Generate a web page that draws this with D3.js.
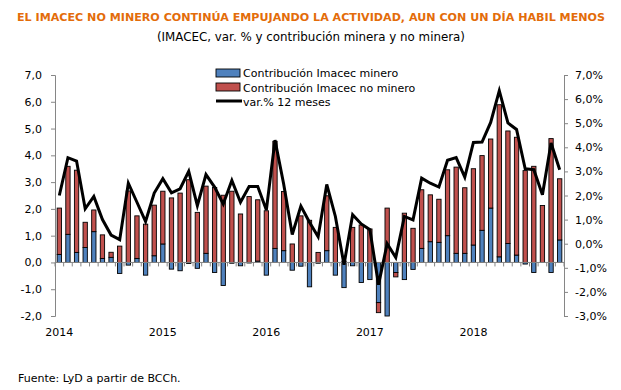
<!DOCTYPE html>
<html>
<head>
<meta charset="utf-8">
<script src="https://cdn.jsdelivr.net/npm/d3@7"></script>
<style>
  body { margin: 0; background: #fff; }
  svg text { font-family: "DejaVu Sans", Verdana, sans-serif; }
</style>
</head>
<body>
<script>
// monthly data, Jan 2014 - Nov 2018
const months = d3.timeMonth.range(new Date(2014, 0, 1), new Date(2018, 11, 1))

// contribution of mining imacec (pp)
const minero = [0.3, 1.05, 0.375, 0.56, 1.15, 0.15, 0.19, -0.41, -0.1, 0.15, -0.475, 0.25,
  0.69, -0.25, -0.31, -0.04, -0.22, 0.34, -0.375, -0.86, -0.03, -0.125, -0.02, 0.05,
  -0.475, 0.525, 0.44, -0.29, -0.14, -0.91, -0.03, 0.44, -0.475, -0.94, -0.125, -0.75,
  -0.64, -1.5, -2.0, -0.375, -0.64, -0.26, 0.525, 0.775, 0.75, 1.0, 0.34, 0.34,
  0.65, 1.2, 2.03, 0.21, 0.71, 0.275, -0.06, -0.375, 0.0, -0.375, 0.84]

// contribution of non-mining imacec (pp)
const noMinero = [1.73, 2.54, 3.07, 0.94, 0.81, 0.88, 0.19, 0.61, 2.67, 1.59, 1.43, 1.89,
  1.97, 2.41, 2.59, 3.09, 1.87, 2.51, 2.8, 2.51, 2.66, 1.81, 2.46, 2.29,
  1.93, 4.0, 2.21, 0.69, 1.74, 1.575, 0.375, 2.05, 1.31, 0.05, 1.31, 1.4,
  1.25, -0.375, 2.03, -0.165, 1.84, 1.275, 2.19, 1.75, 1.61, 2.46, 3.22, 2.45,
  2.85, 2.79, 2.58, 5.68, 4.2, 4.4, 3.43, 3.59, 2.125, 4.625, 2.285]

// imacec var.% 12 meses (right axis)
const varAnual = [2.0, 3.57, 3.43, 1.45, 1.96, 1.0, 0.36, 0.17, 2.51, 1.72, 0.92, 2.1,
  2.7, 2.11, 2.28, 3.0, 1.58, 2.87, 2.35, 1.65, 2.62, 1.72, 2.37, 2.37,
  1.4, 4.3, 2.49, 0.38, 1.56, 0.89, 0.29, 2.46, 1.13, -0.87, 1.2, 0.82,
  0.58, -1.7, 0.0, -0.57, 1.13, 0.99, 2.72, 2.51, 2.35, 3.46, 3.57, 2.76,
  4.2, 4.22, 5.03, 6.35, 5.01, 4.74, 3.11, 3.07, 2.03, 4.18, 3.07]

const leftTicks = [7, 6, 5, 4, 3, 2, 1, 0, -1, -2]
const rightTicks = [7, 6, 5, 4, 3, 2, 1, 0, -1, -2, -3]

const width = 621, height = 390
const plot = {left: 55, right: 564, top: 75, bottom: 316}

const svg = d3.select('body').append('svg')
    .attr('width', width)
    .attr('height', height)

// title + subtitle
svg.append('text')
    .attr('x', 311).attr('y', 21)
    .attr('text-anchor', 'middle')
    .attr('font-family', 'Liberation Sans, Arial, sans-serif')
    .attr('font-weight', 'bold')
    .attr('font-size', '11px')
    .attr('fill', '#E36C0A')
    .attr('textLength', 588)
    .attr('lengthAdjust', 'spacingAndGlyphs')
    .text('EL IMACEC NO MINERO CONTINÚA EMPUJANDO LA ACTIVIDAD, AUN CON UN DÍA HABIL MENOS')
svg.append('text')
    .attr('x', 311).attr('y', 41)
    .attr('text-anchor', 'middle')
    .attr('font-family', 'Liberation Sans, Arial, sans-serif')
    .attr('font-size', '13px')
    .attr('textLength', 308)
    .attr('lengthAdjust', 'spacingAndGlyphs')
    .text('(IMACEC, var. % y contribución minera y no minera)')

// scales
const xScale = d3.scaleBand()
    .domain(months.map((d, i) => i))
    .range([plot.left, plot.right])
    .paddingInner(0.5)
    .paddingOuter(0.25)

const yScale = d3.scaleLinear()
    .domain([-2, 7])
    .range([plot.bottom, plot.top])

const y2Scale = d3.scaleLinear()
    .domain([-3, 7])
    .range([plot.bottom, plot.top])

const step = (plot.right - plot.left) / months.length
const cx = i => plot.left + step * (i + 0.5)
const fmt = d => d3.format('.1f')(d).replace('.', ',').replace('−', '-')

// left axis
const yAxis = svg.append('g')
    .attr('transform', 'translate(' + plot.left + ',0)')
    .call(d3.axisLeft(yScale).tickValues(leftTicks).tickSize(4).tickPadding(9).tickFormat(fmt))
yAxis.select('.domain').attr('stroke', '#868686')
yAxis.selectAll('.tick line').attr('stroke', '#868686')
yAxis.selectAll('text').attr('font-size', '11px').attr('fill', '#000')

// right axis
const y2Axis = svg.append('g')
    .attr('transform', 'translate(' + plot.right + ',0)')
    .call(d3.axisRight(y2Scale).tickValues(rightTicks).tickSize(4).tickPadding(7)
        .tickFormat(d => fmt(d) + '%'))
y2Axis.select('.domain').attr('stroke', '#868686')
y2Axis.selectAll('.tick line').attr('stroke', '#868686')
y2Axis.selectAll('text').attr('font-size', '11px').attr('fill', '#000')

// stacked bars
const table = months.map((d, i) => ({i: i, minero: minero[i], noMinero: noMinero[i]}))
const series = d3.stack()
    .keys(['minero', 'noMinero'])
    .offset(d3.stackOffsetDiverging)(table)
const colors = {minero: '#4F81BD', noMinero: '#C0504D'}

svg.append('g').selectAll('g')
    .data(series)
    .enter()
    .append('g')
        .attr('fill', d => colors[d.key])
    .selectAll('rect')
    .data(d => d)
    .enter()
    .append('rect')
        .attr('x', d => xScale(d.data.i))
        .attr('width', xScale.bandwidth())
        .attr('y', d => yScale(Math.max(d[0], d[1])))
        .attr('height', d => Math.abs(yScale(d[0]) - yScale(d[1])))
        .attr('stroke', '#000')
        .attr('stroke-width', 0.9)

// category axis at zero
const xAxis = svg.append('g')
    .attr('transform', 'translate(0,' + yScale(0) + ')')
xAxis.append('line')
    .attr('x1', plot.left).attr('x2', plot.right)
    .attr('stroke', '#868686')
xAxis.selectAll('.mtick')
    .data(d3.range(months.length + 1))
    .enter()
    .append('line')
        .attr('x1', d => plot.left + step * d)
        .attr('x2', d => plot.left + step * d)
        .attr('y1', 0).attr('y2', 4)
        .attr('stroke', '#868686')

// year labels
svg.selectAll('.year')
    .data(months.filter(d => d.getMonth() == 0))
    .enter()
    .append('text')
        .attr('x', d => cx(months.findIndex(m => +m == +d)))
        .attr('y', 336)
        .attr('text-anchor', 'middle')
        .attr('font-size', '11px')
        .text(d => d.getFullYear())

// var.% 12 meses line
const line = d3.line()
    .x((d, i) => cx(i))
    .y(d => y2Scale(d))
svg.append('path')
    .datum(varAnual)
    .attr('d', line)
    .attr('fill', 'none')
    .attr('stroke', '#000')
    .attr('stroke-width', 3)
    .attr('stroke-linejoin', 'miter')

// legend
const legend = svg.append('g').attr('transform', 'translate(216,0)')
legend.append('rect')
    .attr('x', 0).attr('y', 69).attr('width', 24).attr('height', 8)
    .attr('fill', colors.minero).attr('stroke', '#000').attr('stroke-width', 0.9)
legend.append('rect')
    .attr('x', 0).attr('y', 83).attr('width', 24).attr('height', 8)
    .attr('fill', colors.noMinero).attr('stroke', '#000').attr('stroke-width', 0.9)
legend.append('line')
    .attr('x1', 0).attr('x2', 26).attr('y1', 101).attr('y2', 101)
    .attr('stroke', '#000').attr('stroke-width', 3)
const legendText = ['Contribución Imacec minero', 'Contribución Imacec no minero', 'var.% 12 meses']
legend.selectAll('.lt')
    .data(legendText)
    .enter()
    .append('text')
        .attr('x', 27)
        .attr('y', (d, i) => 77 + i * 14.5)
        .attr('font-size', '11px')
        .text(d => d)

// source
svg.append('text')
    .attr('x', 18).attr('y', 382)
    .attr('font-family', 'Liberation Sans, Arial, sans-serif')
    .attr('font-size', '11px')
    .text('Fuente: LyD a partir de BCCh.')
</script>
</body>
</html>
